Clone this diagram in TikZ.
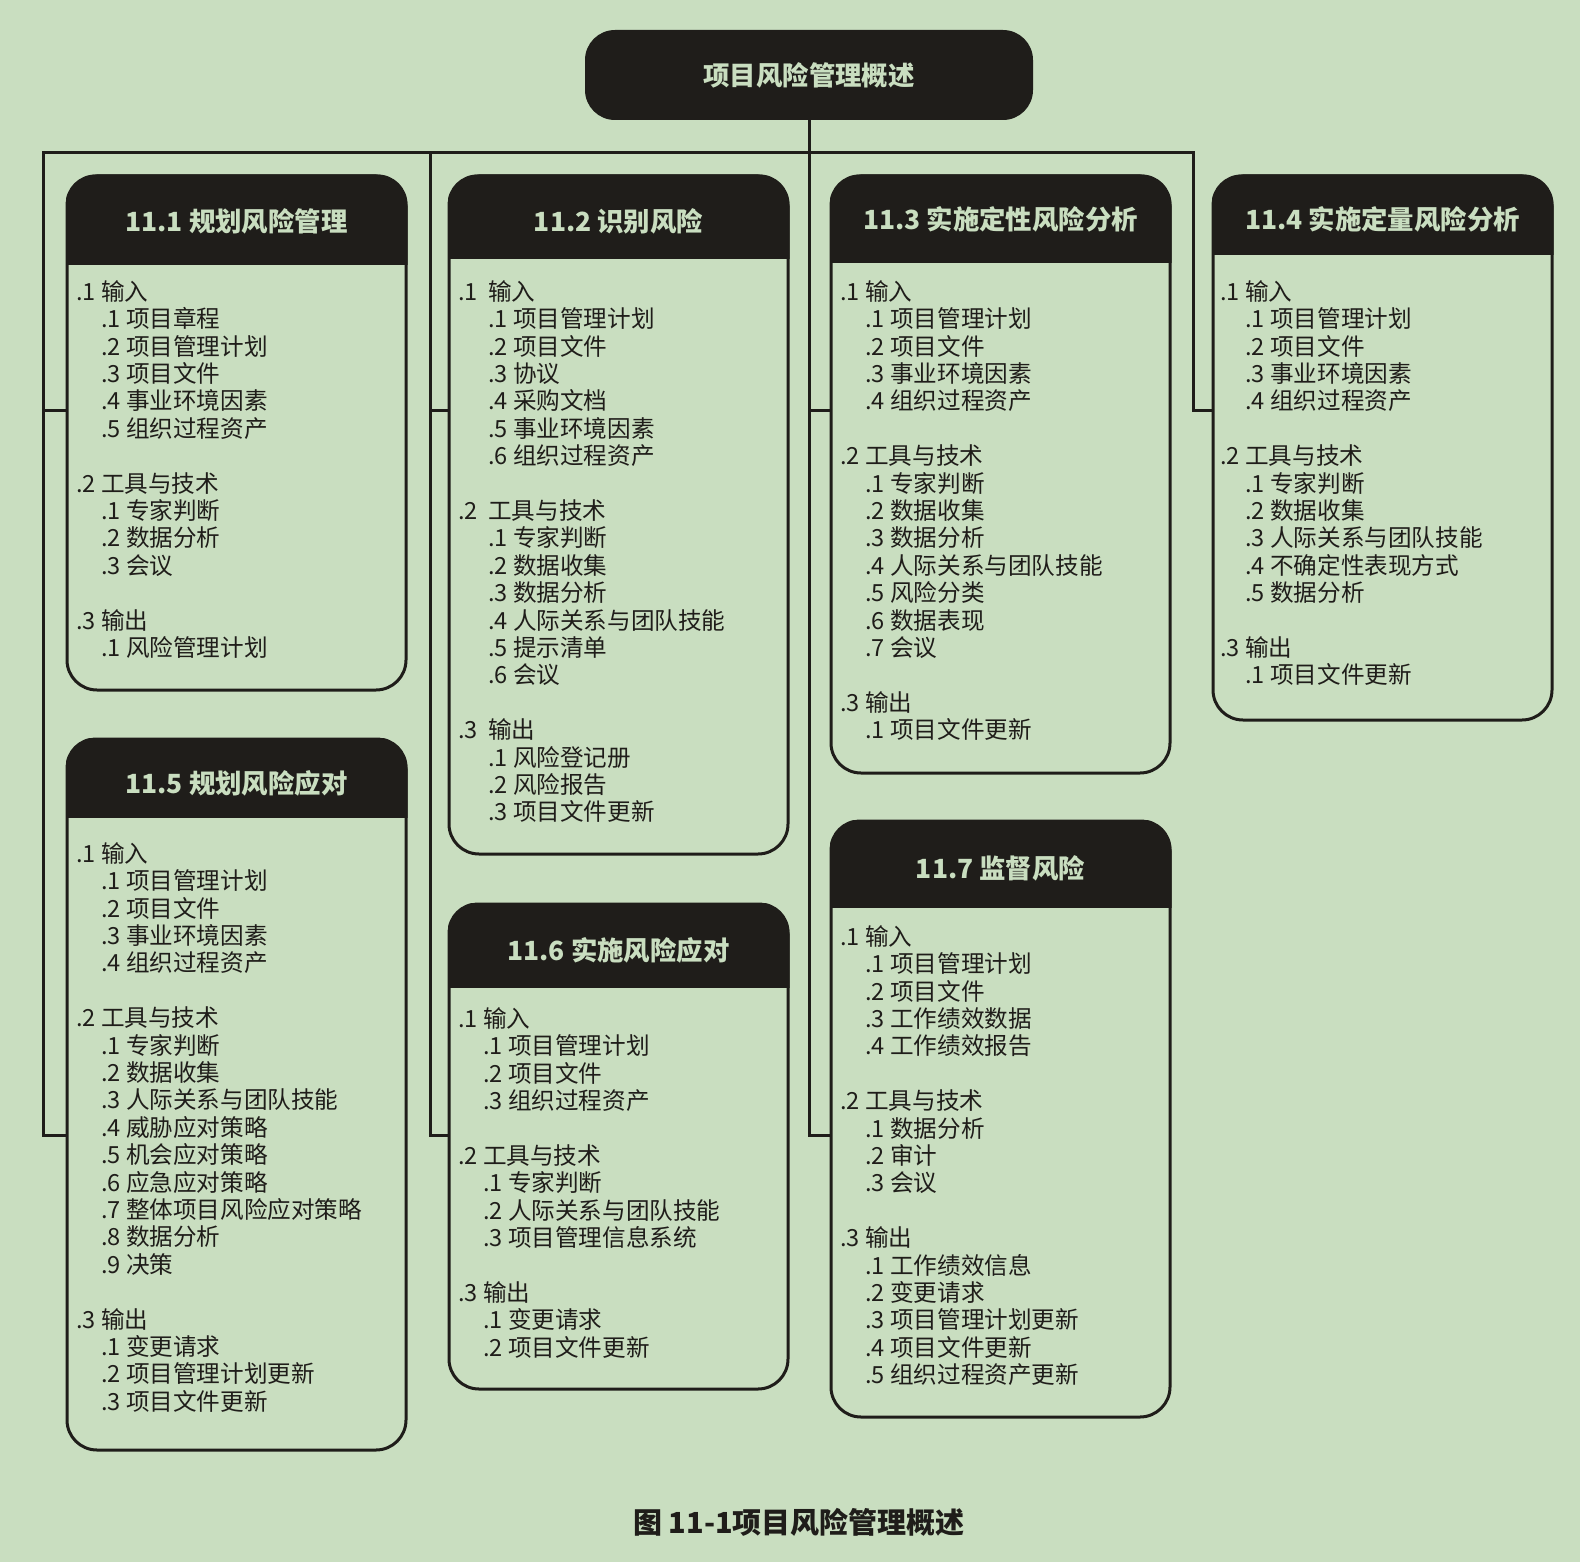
\documentclass[tikz,border=0pt]{standalone}
\usepackage{fontspec}
\setmainfont{Noto Sans CJK SC}
\usetikzlibrary{positioning}

\definecolor{bg}{RGB}{201,222,192}
\definecolor{ink}{RGB}{31,29,26}

% numbered lines inside the boxes
\newcommand{\hd}[3][25pt]{\rule{0pt}{20pt}\makebox[#1][l]{#2}#3}
\newcommand{\subitm}[3][25pt]{\hspace*{#1}\makebox[25pt][l]{#2}#3}

\tikzset{
  box/.style={draw=ink,line width=3pt,rounded corners=30pt,minimum width=339pt,inner sep=0pt},
  headbox/.style={fill=ink,rounded corners=30pt,minimum width=448pt,minimum height=90pt,
    text=bg,font=\fontsize{26.4}{30}\selectfont\bfseries},
  boxtitle/.style={text=bg,inner sep=0pt,font=\fontsize{26.4}{30}\selectfont\bfseries},
  body/.style={anchor=north west,align=left,text=ink,inner sep=0pt,
    font=\fontsize{23.6}{27.4}\selectfont},
  wire/.style={draw=ink,line width=3pt},
  caption/.style={text=ink,inner sep=0pt,font=\fontsize{29}{32}\selectfont\bfseries}
}

\begin{document}
\begin{tikzpicture}[x=1pt,y=-1pt]
\useasboundingbox (0,0) rectangle (1580,1562);
\fill[bg] (0,0) rectangle (1580,1562);

\node[headbox] (top) at (809,75) {项目风险管理概述};

% boxes
\node[box,minimum height=514pt] (b1) at (236.5,433) {};
\node[box,minimum height=678pt] (b2) at (618.5,515) {};
\node[box,minimum height=597pt] (b3) at (1000.5,474.5) {};
\node[box,minimum height=544pt] (b4) at (1382.5,448) {};
\node[box,minimum height=711pt] (b5) at (236.5,1094.5) {};
\node[box,minimum height=485pt] (b6) at (618.5,1146.5) {};
\node[box,minimum height=596pt] (b7) at (1000.5,1119) {};

% dark headers
\begin{scope}
\clip[rounded corners=30pt] (b1.north west) rectangle (b1.south east);
\fill[ink] (b1.north west) rectangle (b1.east |- 0,265);
\end{scope}
\begin{scope}
\clip[rounded corners=30pt] (b2.north west) rectangle (b2.south east);
\fill[ink] (b2.north west) rectangle (b2.east |- 0,259);
\end{scope}
\begin{scope}
\clip[rounded corners=30pt] (b3.north west) rectangle (b3.south east);
\fill[ink] (b3.north west) rectangle (b3.east |- 0,263);
\end{scope}
\begin{scope}
\clip[rounded corners=30pt] (b4.north west) rectangle (b4.south east);
\fill[ink] (b4.north west) rectangle (b4.east |- 0,255);
\end{scope}
\begin{scope}
\clip[rounded corners=30pt] (b5.north west) rectangle (b5.south east);
\fill[ink] (b5.north west) rectangle (b5.east |- 0,818);
\end{scope}
\begin{scope}
\clip[rounded corners=30pt] (b6.north west) rectangle (b6.south east);
\fill[ink] (b6.north west) rectangle (b6.east |- 0,988);
\end{scope}
\begin{scope}
\clip[rounded corners=30pt] (b7.north west) rectangle (b7.south east);
\fill[ink] (b7.north west) rectangle (b7.east |- 0,908);
\end{scope}

\node[boxtitle] (t1) at (236.5,221) {11.1 规划风险管理};
\node[boxtitle] (t2) at (618.5,221) {11.2 识别风险};
\node[boxtitle] (t3) at (1000.5,219) {11.3 实施定性风险分析};
\node[boxtitle] (t4) at (1382.5,219) {11.4 实施定量风险分析};
\node[boxtitle] (t5) at (236.5,783) {11.5 规划风险应对};
\node[boxtitle] (t6) at (618.5,950) {11.6 实施风险应对};
\node[boxtitle] (t7) at (1000.5,868) {11.7 监督风险};

% box contents
\node[body] (l1) at (76,280) {\hd{.1}{输入}\\
\subitm{.1}{项目章程}\\
\subitm{.2}{项目管理计划}\\
\subitm{.3}{项目文件}\\
\subitm{.4}{事业环境因素}\\
\subitm{.5}{组织过程资产}\\[27.4pt]
\hd{.2}{工具与技术}\\
\subitm{.1}{专家判断}\\
\subitm{.2}{数据分析}\\
\subitm{.3}{会议}\\[27.4pt]
\hd{.3}{输出}\\
\subitm{.1}{风险管理计划}};

\node[body] (l2) at (458,280) {\hd[30pt]{.1}{输入}\\
\subitm[30pt]{.1}{项目管理计划}\\
\subitm[30pt]{.2}{项目文件}\\
\subitm[30pt]{.3}{协议}\\
\subitm[30pt]{.4}{采购文档}\\
\subitm[30pt]{.5}{事业环境因素}\\
\subitm[30pt]{.6}{组织过程资产}\\[27.4pt]
\hd[30pt]{.2}{工具与技术}\\
\subitm[30pt]{.1}{专家判断}\\
\subitm[30pt]{.2}{数据收集}\\
\subitm[30pt]{.3}{数据分析}\\
\subitm[30pt]{.4}{人际关系与团队技能}\\
\subitm[30pt]{.5}{提示清单}\\
\subitm[30pt]{.6}{会议}\\[27.4pt]
\hd[30pt]{.3}{输出}\\
\subitm[30pt]{.1}{风险登记册}\\
\subitm[30pt]{.2}{风险报告}\\
\subitm[30pt]{.3}{项目文件更新}};

\node[body] (l3) at (840,280) {\hd{.1}{输入}\\
\subitm{.1}{项目管理计划}\\
\subitm{.2}{项目文件}\\
\subitm{.3}{事业环境因素}\\
\subitm{.4}{组织过程资产}\\[27.4pt]
\hd{.2}{工具与技术}\\
\subitm{.1}{专家判断}\\
\subitm{.2}{数据收集}\\
\subitm{.3}{数据分析}\\
\subitm{.4}{人际关系与团队技能}\\
\subitm{.5}{风险分类}\\
\subitm{.6}{数据表现}\\
\subitm{.7}{会议}\\[27.4pt]
\hd{.3}{输出}\\
\subitm{.1}{项目文件更新}};

\node[body] (l4) at (1220,280) {\hd{.1}{输入}\\
\subitm{.1}{项目管理计划}\\
\subitm{.2}{项目文件}\\
\subitm{.3}{事业环境因素}\\
\subitm{.4}{组织过程资产}\\[27.4pt]
\hd{.2}{工具与技术}\\
\subitm{.1}{专家判断}\\
\subitm{.2}{数据收集}\\
\subitm{.3}{人际关系与团队技能}\\
\subitm{.4}{不确定性表现方式}\\
\subitm{.5}{数据分析}\\[27.4pt]
\hd{.3}{输出}\\
\subitm{.1}{项目文件更新}};

\node[body] (l5) at (76,842) {\hd{.1}{输入}\\
\subitm{.1}{项目管理计划}\\
\subitm{.2}{项目文件}\\
\subitm{.3}{事业环境因素}\\
\subitm{.4}{组织过程资产}\\[27.4pt]
\hd{.2}{工具与技术}\\
\subitm{.1}{专家判断}\\
\subitm{.2}{数据收集}\\
\subitm{.3}{人际关系与团队技能}\\
\subitm{.4}{威胁应对策略}\\
\subitm{.5}{机会应对策略}\\
\subitm{.6}{应急应对策略}\\
\subitm{.7}{整体项目风险应对策略}\\
\subitm{.8}{数据分析}\\
\subitm{.9}{决策}\\[27.4pt]
\hd{.3}{输出}\\
\subitm{.1}{变更请求}\\
\subitm{.2}{项目管理计划更新}\\
\subitm{.3}{项目文件更新}};

\node[body] (l6) at (458,1007) {\hd{.1}{输入}\\
\subitm{.1}{项目管理计划}\\
\subitm{.2}{项目文件}\\
\subitm{.3}{组织过程资产}\\[27.4pt]
\hd{.2}{工具与技术}\\
\subitm{.1}{专家判断}\\
\subitm{.2}{人际关系与团队技能}\\
\subitm{.3}{项目管理信息系统}\\[27.4pt]
\hd{.3}{输出}\\
\subitm{.1}{变更请求}\\
\subitm{.2}{项目文件更新}};

\node[body] (l7) at (840,925) {\hd{.1}{输入}\\
\subitm{.1}{项目管理计划}\\
\subitm{.2}{项目文件}\\
\subitm{.3}{工作绩效数据}\\
\subitm{.4}{工作绩效报告}\\[27.4pt]
\hd{.2}{工具与技术}\\
\subitm{.1}{数据分析}\\
\subitm{.2}{审计}\\
\subitm{.3}{会议}\\[27.4pt]
\hd{.3}{输出}\\
\subitm{.1}{工作绩效信息}\\
\subitm{.2}{变更请求}\\
\subitm{.3}{项目管理计划更新}\\
\subitm{.4}{项目文件更新}\\
\subitm{.5}{组织过程资产更新}};

% connectors
\coordinate (busL) at (43,153);
\coordinate (busM) at (430,153);
\coordinate (busR) at (1193,153);
\draw[wire] (b5.west |- 0,1135) -| (busL) -- (busR) |- (b4.west |- 0,410);
\draw[wire] (busL |- 0,410) -- (b1.west |- 0,410);
\draw[wire] (busM) |- (b6.west |- 0,1135);
\draw[wire] (busM |- 0,410) -- (b2.west |- 0,410);
\draw[wire] (top) -- (top |- 0,1135) -- (b7.west |- 0,1135);
\draw[wire] (top |- 0,410) -- (b3.west |- 0,410);

\node[caption] (cap) at (799,1522) {图 11-1项目风险管理概述};
\end{tikzpicture}
\end{document}
